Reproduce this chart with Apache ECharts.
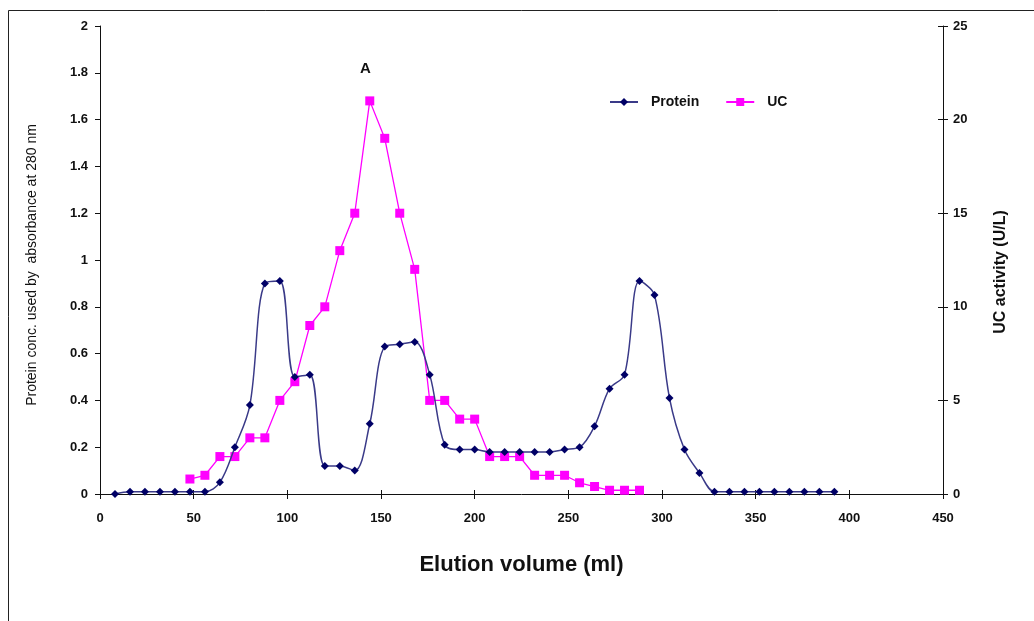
<!DOCTYPE html>
<html>
<head>
<meta charset="utf-8">
<title>Elution profile</title>
<script src="https://cdn.jsdelivr.net/npm/echarts@6/dist/echarts.min.js"></script>
<style>
  html, body { margin: 0; padding: 0; background: #fff; }
  #chart { width: 1034px; height: 621px; }
</style>
</head>
<body>
<div id="chart"></div>
<script>
// Fraction elution volumes (ml)
const proteinVolume = [8, 16, 24, 32, 40, 48, 56, 64, 72, 80, 88, 96, 104, 112, 120, 128, 136, 144, 152, 160,
  168, 176, 184, 192, 200, 208, 216, 224, 232, 240, 248, 256, 264, 272, 280, 288, 296, 304, 312, 320,
  328, 336, 344, 352, 360, 368, 376, 384, 392];
// Absorbance at 280 nm
const proteinAbs = [0, 0.01, 0.01, 0.01, 0.01, 0.01, 0.01, 0.05, 0.2, 0.38, 0.9, 0.91, 0.5, 0.51, 0.12, 0.12, 0.1, 0.3, 0.63, 0.64,
  0.65, 0.51, 0.21, 0.19, 0.19, 0.18, 0.18, 0.18, 0.18, 0.18, 0.19, 0.2, 0.29, 0.45, 0.51, 0.91, 0.85, 0.41, 0.19, 0.09,
  0.01, 0.01, 0.01, 0.01, 0.01, 0.01, 0.01, 0.01, 0.01];

const ucVolume = [48, 56, 64, 72, 80, 88, 96, 104, 112, 120, 128, 136, 144, 152, 160, 168, 176, 184, 192, 200,
  208, 216, 224, 232, 240, 248, 256, 264, 272, 280, 288];
// UC activity (U/L)
const ucActivity = [0.8, 1, 2, 2, 3, 3, 5, 6, 9, 10, 13, 15, 21, 19, 15, 12, 5, 5, 4, 4,
  2, 2, 2, 1, 1, 1, 0.6, 0.4, 0.2, 0.2, 0.2];

const FONT = '"Liberation Sans", Arial, sans-serif';
const pair = (xs, ys) => xs.map((x, i) => [x, ys[i]]);

const chart = echarts.init(document.getElementById('chart'), null, { renderer: 'canvas' });

const labelStyle = { fontFamily: FONT, fontSize: 13, fontWeight: 'bold', color: '#111' };

chart.setOption({
  backgroundColor: '#fff',
  animation: false,
  grid: { left: 100, right: 91, top: 26, bottom: 127, containLabel: false },
  legend: {
    left: 604, top: 90,
    itemWidth: 28, itemHeight: 10, itemGap: 26,
    textStyle: { fontFamily: FONT, fontSize: 14, fontWeight: 'bold', color: '#111', padding: [0, 0, 0, 8] },
    data: ['Protein', 'UC']
  },
  graphic: [
    { type: 'rect', z: -10, silent: true,
      shape: { x: 8.5, y: 10.5, width: 1100, height: 700 },
      style: { fill: 'none', stroke: '#222', lineWidth: 1 } },
    { type: 'text', left: 360, top: 61,
      style: { text: 'A', font: 'bold 15px ' + FONT, fill: '#111' } },
    { type: 'text', x: 1001, y: 272, rotation: Math.PI / 2,
      style: { text: 'UC activity (U/L)', font: 'bold 16px ' + FONT, fill: '#111',
               align: 'center', verticalAlign: 'middle' } },
    { type: 'text', x: 32, y: 265, rotation: Math.PI / 2,
      style: { text: 'Protein conc. used by  absorbance at 280 nm', font: '14px ' + FONT, fill: '#111',
               align: 'center', verticalAlign: 'middle' } }
  ],
  xAxis: [
    {
      type: 'value', min: 0, max: 450, interval: 50, position: 'bottom',
      name: 'Elution volume (ml)', nameLocation: 'middle', nameGap: 60,
      nameTextStyle: { fontFamily: FONT, fontSize: 22, fontWeight: 'bold', color: '#111' },
      axisLine: { onZero: false, lineStyle: { color: '#111', width: 1 } },
      axisTick: { show: true, length: 5, lineStyle: { color: '#111' } },
      axisLabel: Object.assign({ margin: 18 }, labelStyle),
      splitLine: { show: false }
    },
    {
      type: 'value', min: 0, max: 450, interval: 50, position: 'bottom',
      axisLine: { show: false, onZero: false },
      axisTick: { show: true, inside: true, length: 4, lineStyle: { color: '#111' } },
      axisLabel: { show: false },
      splitLine: { show: false }
    }
  ],
  yAxis: [
    {
      type: 'value', min: 0, max: 2, interval: 0.2, position: 'left',
      axisLine: { show: true, onZero: false, lineStyle: { color: '#111', width: 1 } },
      axisTick: { show: true, length: 5, lineStyle: { color: '#111' } },
      axisLabel: Object.assign({ margin: 12 }, labelStyle),
      splitLine: { show: false }
    },
    {
      type: 'value', min: 0, max: 25, interval: 5, position: 'right',
      axisLine: { show: true, onZero: false, lineStyle: { color: '#111', width: 1 } },
      axisTick: { show: true, length: 5, lineStyle: { color: '#111' } },
      axisLabel: Object.assign({ margin: 10 }, labelStyle),
      splitLine: { show: false }
    },
    {
      type: 'value', min: 0, max: 25, interval: 5, position: 'right',
      axisLine: { show: false, onZero: false },
      axisTick: { show: true, inside: true, length: 5, lineStyle: { color: '#111' } },
      axisLabel: { show: false },
      splitLine: { show: false }
    }
  ],
  series: [
    {
      name: 'Protein', type: 'line', xAxisIndex: 0, yAxisIndex: 0,
      data: pair(proteinVolume, proteinAbs),
      smooth: 0.35,
      symbol: 'diamond', symbolSize: 8,
      lineStyle: { color: '#3a3a88', width: 1.5 },
      itemStyle: { color: '#000066' },
      z: 3
    },
    {
      name: 'UC', type: 'line', xAxisIndex: 0, yAxisIndex: 1,
      data: pair(ucVolume, ucActivity),
      smooth: false,
      symbol: 'rect', symbolSize: 9,
      lineStyle: { color: '#ff00ff', width: 1.3 },
      itemStyle: { color: '#ff00ff' },
      z: 2
    }
  ]
});
</script>
</body>
</html>
